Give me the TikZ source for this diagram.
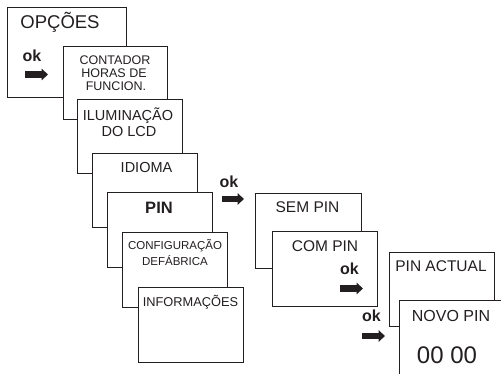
\documentclass[tikz,border=0pt]{standalone}
\usepackage{fontspec}
\setmainfont{Liberation Sans}
\usetikzlibrary{arrows.meta}
\definecolor{ink}{HTML}{231F20}
\tikzset{
  screen/.style={draw=ink, line width=0.9pt, fill=white, inner sep=0pt, anchor=north west},
  txt/.style={text=ink, inner sep=0pt, anchor=base},
  okarrow/.style={draw=ink, line width=6.5pt, -{Triangle[length=6.5pt,width=11.5pt]}},
}
\newcommand{\fs}[1]{\fontsize{#1}{#1}\selectfont}
\begin{document}
\begin{tikzpicture}[x=1pt,y=-1pt]
\useasboundingbox (0,0) rectangle (501,374);
\clip (0,0) rectangle (501,374);
% boxes
\node[screen, minimum width=119pt, minimum height=90pt] (opc) at (7,7) {};
\node[screen, minimum width=104pt, minimum height=73pt] (cont) at (63,46) {};
\node[screen, minimum width=105pt, minimum height=74pt] (ilum) at (77,99) {};
\node[screen, minimum width=105pt, minimum height=74pt] (idio) at (92,153) {};
\node[screen, minimum width=105pt, minimum height=75pt] (pin) at (107,192) {};
\node[screen, minimum width=105pt, minimum height=75pt] (conf) at (122,232) {};
\node[screen, minimum width=105pt, minimum height=75pt] (info) at (138,287) {};
\node[screen, minimum width=106pt, minimum height=75pt] (sem) at (255,193) {};
\node[screen, minimum width=105pt, minimum height=75pt] (com) at (272,231) {};
\node[screen, minimum width=105pt, minimum height=74pt] (act) at (389,252) {};
\node[screen, minimum width=110pt, minimum height=85pt] (novo) at (399,300) {};
% texts
\node[txt, font=\fs{18.5}] (topc) at (60,29) {OPÇÕES};
\node[txt, font=\fs{12.5}] (tc1) at (115,65) {CONTADOR};
\node[txt, font=\fs{12.5}] (tc2) at (114,78) {HORAS DE};
\node[txt, font=\fs{12.5}] (tc3) at (116,91) {FUNCION.};
\node[txt, font=\fs{14.5}] (til1) at (128,121) {ILUMINAÇÃO};
\node[txt, font=\fs{14.5}] (til2) at (129,137) {DO LCD};
\node[txt, font=\fs{14.5}] (tid) at (146.5,173) {IDIOMA};
\node[txt, font=\fs{16.5}\bfseries] (tpin) at (159,214) {PIN};
\node[txt, font=\fs{11.5}] (tcf1) at (175,250) {CONFIGURAÇÃO};
\node[txt, font=\fs{11.5}] (tcf2) at (175,266) {DEFÁBRICA};
\node[txt, font=\fs{12.8}] (tinf) at (190.5,307) {INFORMAÇÕES};
\node[txt, font=\fs{15.5}] (tsem) at (307.5,213) {SEM PIN};
\node[txt, font=\fs{15.5}] (tcom) at (325,252) {COM PIN};
\node[txt, font=\fs{15.5}] (tact) at (441,272) {PIN ACTUAL};
\node[txt, font=\fs{16}] (tnovo) at (451,321) {NOVO PIN};
\node[txt, font=\fs{24}] (tzero) at (447,363) {00 00};
% ok labels
\node[txt, font=\fs{16}\bfseries] (ok1) at (32,62) {ok};
\node[txt, font=\fs{16}\bfseries] (ok2) at (229,188) {ok};
\node[txt, font=\fs{16}\bfseries] (ok3) at (349.5,275) {ok};
\node[txt, font=\fs{16}\bfseries] (ok4) at (371.5,322) {ok};
% arrows
\coordinate (a1s) at (25,74.5);   \coordinate (a1e) at (48,74.5);
\coordinate (a2s) at (222,199);   \coordinate (a2e) at (244,199);
\coordinate (a3s) at (340,288.5); \coordinate (a3e) at (363,288.5);
\coordinate (a4s) at (362,336);   \coordinate (a4e) at (385,336);
\draw[okarrow] (a1s) -- (a1e);
\draw[okarrow] (a2s) -- (a2e);
\draw[okarrow] (a3s) -- (a3e);
\draw[okarrow] (a4s) -- (a4e);
\end{tikzpicture}
\end{document}
